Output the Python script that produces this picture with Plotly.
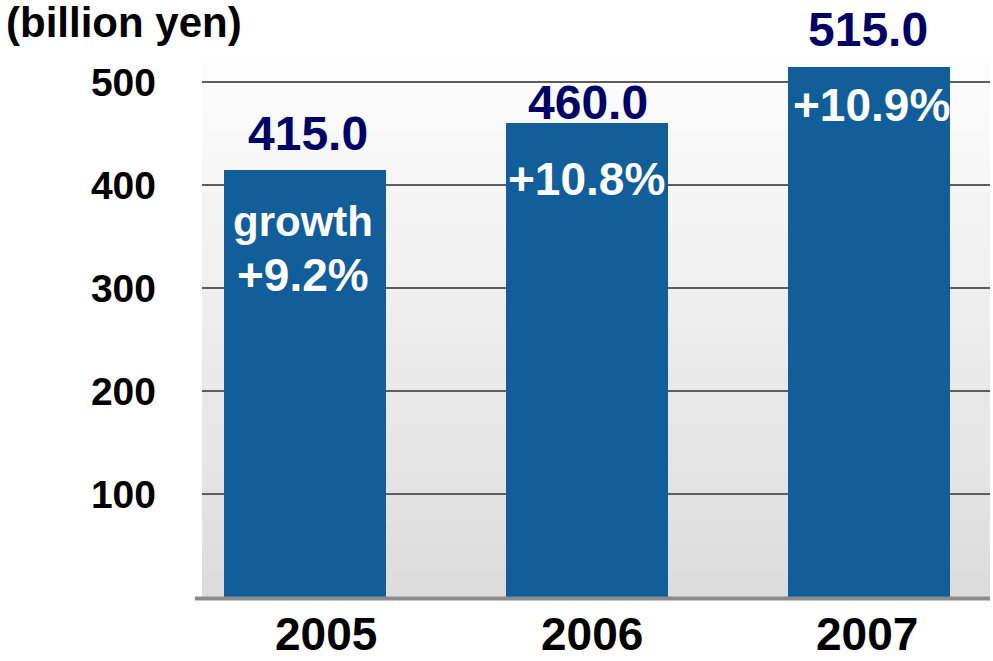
import plotly.graph_objects as go

# Sales by fiscal year (billion yen) and year-on-year growth
years = ["2005", "2006", "2007"]
sales = [415.0, 460.0, 515.0]
growth = ["+9.2%", "+10.8%", "+10.9%"]
growth_caption = ["growth", "", ""]
y_ticks = [100, 200, 300, 400, 500]

FONT = "Arial, Liberation Sans, sans-serif"
BAR = "#115e9b"
NAVY = "#000066"

# label offsets in pixels relative to each bar top
value_shift = [36, 21, 37]
value_xshift = [3, 1, -1]
pct_shift = [-105, -56, -38]
pct_xshift = [-2, 0, 2]
caption_shift = -52
year_xshift = [21, 5, -2]

idx = list(range(len(years)))


def bold(size, color):
    return dict(family=FONT, size=size, color=color, weight="bold")


fig = go.Figure()
fig.add_trace(go.Bar(
    x=idx, y=sales, width=0.574,
    marker=dict(color=BAR, line=dict(width=0)),
    hoverinfo="skip",
))

shapes = []
# vertical gradient backdrop for the plotting area
n_strips = 60
top_c, bot_c = (253, 253, 253), (220, 220, 220)
for i in range(n_strips):
    t = (i + 0.5) / n_strips
    c = tuple(round(top_c[k] + (bot_c[k] - top_c[k]) * t) for k in range(3))
    shapes.append(dict(
        type="rect", xref="paper", yref="paper",
        x0=0, x1=1, y0=1 - (i + 1) / n_strips, y1=1 - i / n_strips + 0.001,
        fillcolor="rgb(%d,%d,%d)" % c, line=dict(width=0), layer="below",
    ))
# baseline under the bars
shapes.append(dict(
    type="line", xref="paper", yref="paper",
    x0=-0.009, x1=1, y0=-0.0028, y1=-0.0028,
    line=dict(color="#8c8c8c", width=4), layer="above",
))

annotations = []
for i in idx:
    annotations.append(dict(
        x=i, y=sales[i], xref="x", yref="y", text="%.1f" % sales[i],
        showarrow=False, yanchor="middle", xanchor="center",
        yshift=value_shift[i], xshift=value_xshift[i],
        font=bold(48, NAVY),
    ))
    annotations.append(dict(
        x=i, y=sales[i], xref="x", yref="y", text=growth[i],
        showarrow=False, yanchor="middle", xanchor="center",
        yshift=pct_shift[i], xshift=pct_xshift[i],
        font=bold(46, "white"),
    ))
    if growth_caption[i]:
        annotations.append(dict(
            x=i, y=sales[i], xref="x", yref="y", text=growth_caption[i],
            showarrow=False, yanchor="middle", xanchor="center",
            yshift=caption_shift, xshift=-2,
            font=bold(42, "white"),
        ))
    annotations.append(dict(
        x=i, y=0, xref="x", yref="paper", text=years[i],
        showarrow=False, yanchor="middle", xanchor="center",
        yshift=-37, xshift=year_xshift[i], borderpad=0,
        font=bold(46, "black"),
    ))

annotations.append(dict(
    x=0, y=1, xref="paper", yref="paper", xshift=-198, yshift=36,
    text="(billion yen)", showarrow=False, xanchor="left", yanchor="middle",
    font=bold(42, "black"),
))

fig.update_layout(
    width=993, height=661,
    margin=dict(l=202, r=3, t=58, b=64, pad=0),
    paper_bgcolor="white", plot_bgcolor="rgba(0,0,0,0)",
    showlegend=False, bargap=0,
    shapes=shapes, annotations=annotations,
    font=dict(family=FONT, color="black"),
    xaxis=dict(
        range=[-0.365, 2.429], showticklabels=False, showgrid=False,
        zeroline=False, showline=False, ticks="", fixedrange=True,
    ),
    yaxis=dict(
        range=[0, 523.3], tickvals=y_ticks, ticktext=[str(v) for v in y_ticks],
        showgrid=True, gridcolor="#5e5e5e", gridwidth=1.5,
        zeroline=False, showline=False, ticks="",
        ticklabelstandoff=45,
        tickfont=bold(39, "black"),
        fixedrange=True,
    ),
)

fig.write_html("out.html")
